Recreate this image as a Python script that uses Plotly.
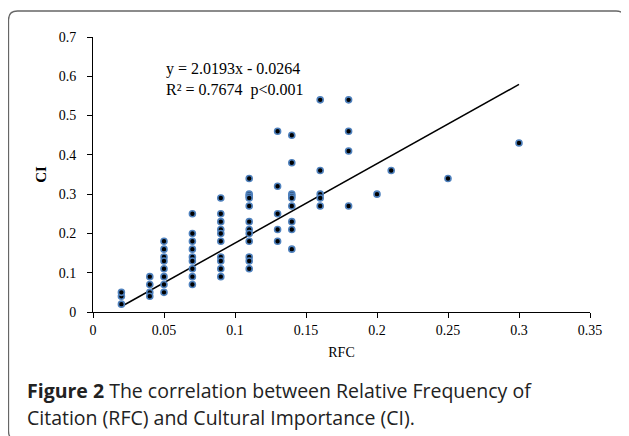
import plotly.graph_objects as go

# Data
rfc = (
    [0.02] * 3 + [0.04] * 4 + [0.05] * 8 + [0.07] * 9 + [0.09] * 10 +
    [0.11] * 12 + [0.13] * 5 + [0.14] * 9 + [0.16] * 5 + [0.18] * 4 +
    [0.20, 0.21, 0.25, 0.30]
)
ci = (
    [0.02, 0.04, 0.05] +
    [0.09, 0.07, 0.05, 0.04] +
    [0.18, 0.16, 0.14, 0.13, 0.11, 0.09, 0.07, 0.05] +
    [0.25, 0.20, 0.18, 0.16, 0.14, 0.13, 0.11, 0.09, 0.07] +
    [0.29, 0.25, 0.23, 0.21, 0.20, 0.18, 0.14, 0.13, 0.11, 0.09] +
    [0.34, 0.30, 0.295, 0.29, 0.27, 0.23, 0.21, 0.20, 0.18, 0.14, 0.13, 0.11] +
    [0.46, 0.32, 0.25, 0.21, 0.18] +
    [0.45, 0.38, 0.30, 0.295, 0.29, 0.27, 0.23, 0.21, 0.16] +
    [0.54, 0.36, 0.30, 0.29, 0.27] +
    [0.54, 0.46, 0.41, 0.27] +
    [0.30, 0.36, 0.34, 0.43]
)
slope = 2.0193
intercept = -0.0264
eq_text = "y = 2.0193x - 0.0264<br>R² = 0.7674  p<0.001"
x_ticks = [0, 0.05, 0.1, 0.15, 0.2, 0.25, 0.3, 0.35]
x_tick_labels = ["0", "0.05", "0.1", "0.15", "0.2", "0.25", "0.3", "0.35"]
y_ticks = [0, 0.1, 0.2, 0.3, 0.4, 0.5, 0.6, 0.7]
y_tick_labels = ["0", "0.1", "0.2", "0.3", "0.4", "0.5", "0.6", "0.7"]
caption_bold = "Figure 2"
caption_line1 = " The correlation between Relative Frequency of"
caption_line2 = "Citation (RFC) and Cultural Importance (CI)."

fit_x = [min(rfc), max(rfc)]
fit_y = [slope * v + intercept for v in fit_x]

serif = "Liberation Serif, Times New Roman, serif"

fig = go.Figure()
fig.add_trace(go.Scatter(
    x=fit_x, y=fit_y, mode="lines",
    line=dict(color="black", width=1.5), showlegend=False, hoverinfo="skip"))
fig.add_trace(go.Scatter(
    x=rfc, y=ci, mode="markers",
    marker=dict(size=6, color="black", line=dict(color="#4f81bd", width=1.6)),
    showlegend=False))

# page has an 8px body margin: work in window pixels and shift by OFF
OFF = 8
W, H = 629 - OFF, 436 - OFF
# plot area in window pixels: x 93..590, y 37..312
L, T = 93 - OFF, 37 - OFF
R, B = W - (590 - OFF), H - (312 - OFF)
pw, ph = W - L - R, H - T - B


def px(xw):
    return (xw - OFF - L) / pw


def py(yw):
    return (H - B - (yw - OFF)) / ph


# rounded border
x0, x1, y0, y1 = px(8.5), px(625), py(11), py(440)
rx, ry = 9 / pw, 9 / ph
path = (f"M {x0+rx},{y0} L {x1-rx},{y0} Q {x1},{y0} {x1},{y0-ry} "
        f"L {x1},{y1+ry} Q {x1},{y1} {x1-rx},{y1} L {x0+rx},{y1} "
        f"Q {x0},{y1} {x0},{y1+ry} L {x0},{y0-ry} Q {x0},{y0} {x0+rx},{y0} Z")
fig.add_shape(type="path", path=path, xref="paper", yref="paper",
              line=dict(color="#666666", width=1.3), layer="below")

fig.add_annotation(x=0.1, y=0.593, xref="x", yref="y", text=eq_text,
                   showarrow=False, align="left",
                   font=dict(family=serif, size=16, color="black"))
cap_font = dict(family="Open Sans, sans-serif", size=19.5, color="#222222")
fig.add_annotation(x=px(25), y=py(390), xref="paper", yref="paper",
                   xanchor="left", yanchor="middle", showarrow=False,
                   text=f"<b>{caption_bold}</b>{caption_line1}", font=cap_font)
fig.add_annotation(x=px(25), y=py(417), xref="paper", yref="paper",
                   xanchor="left", yanchor="middle", showarrow=False,
                   text=caption_line2, font=cap_font)

fig.update_layout(
    width=W, height=H,
    margin=dict(l=L, r=R, t=T, b=B),
    paper_bgcolor="white", plot_bgcolor="white",
    font=dict(family=serif, size=14, color="black"),
    xaxis=dict(range=[0, 0.35], tickvals=x_ticks, ticktext=x_tick_labels,
               showgrid=False, zeroline=False, showline=True,
               linecolor="black", linewidth=1, ticks="outside", ticklen=5,
               tickcolor="black",
               title=dict(text="RFC", font=dict(family=serif, size=14), standoff=10)),
    yaxis=dict(range=[0, 0.7], tickvals=y_ticks, ticktext=y_tick_labels,
               showgrid=False, zeroline=False, showline=True,
               linecolor="black", linewidth=1, ticks="outside", ticklen=5,
               tickcolor="black", ticklabelstandoff=8,
               title=dict(text="<b>CI</b>", font=dict(family=serif, size=15), standoff=8)),
)

fig.write_html("out.html")
